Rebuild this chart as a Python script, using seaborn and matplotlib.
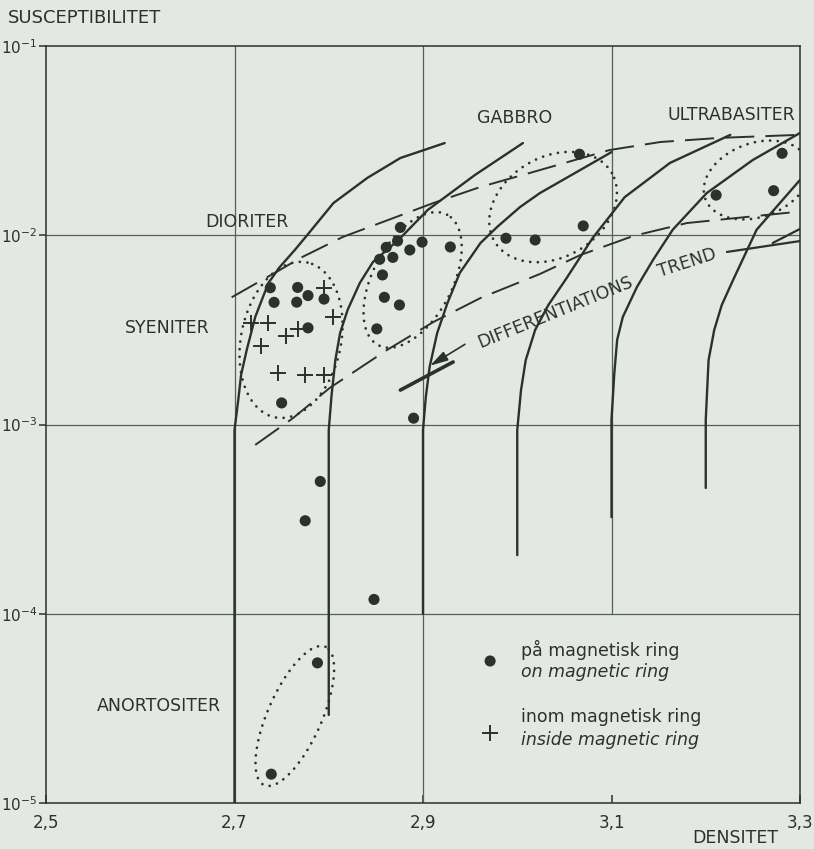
import numpy as np
import pandas as pd
import matplotlib
matplotlib.use("Agg")
import matplotlib.pyplot as plt
import seaborn as sns

# measured samples, "på magnetisk ring" (dots)
dot_density = [2.738, 2.742, 2.767, 2.766, 2.778, 2.795, 2.778, 2.750,
               2.876, 2.873, 2.861, 2.899, 2.886, 2.929, 2.854, 2.868,
               2.857, 2.859, 2.875, 2.851, 2.890,
               2.988, 3.019, 3.066, 3.070,
               3.281, 3.272, 3.211,
               2.791, 2.775, 2.848, 2.788, 2.739]
dot_susc = [5.28e-3, 4.42e-3, 5.30e-3, 4.43e-3, 4.80e-3, 4.60e-3, 3.24e-3, 1.30e-3,
            1.10e-2, 9.33e-3, 8.63e-3, 9.20e-3, 8.36e-3, 8.67e-3, 7.46e-3, 7.64e-3,
            6.17e-3, 4.70e-3, 4.28e-3, 3.20e-3, 1.08e-3,
            9.64e-3, 9.44e-3, 2.68e-2, 1.12e-2,
            2.71e-2, 1.72e-2, 1.63e-2,
            5.0e-4, 3.1e-4, 1.19e-4, 5.5e-5, 1.42e-5]

# "inom magnetisk ring" (crosses)
cross_density = [2.718, 2.736, 2.728, 2.755, 2.767, 2.795, 2.805, 2.746, 2.775, 2.795]
cross_susc = [3.43e-3, 3.43e-3, 2.60e-3, 2.94e-3, 3.20e-3, 5.28e-3, 3.72e-3,
              1.87e-3, 1.83e-3, 1.82e-3]

# solid reference curves
c1_x = [2.700, 2.700, 2.704, 2.707, 2.713, 2.722, 2.736, 2.748, 2.764, 2.777, 2.805, 2.841, 2.876, 2.923]
c1_y = [1.0e-5, 9.35e-4, 1.35e-3, 1.83e-3, 2.48e-3, 3.70e-3, 5.60e-3, 6.79e-3, 8.36e-3, 1.0e-2, 1.48e-2, 2.01e-2, 2.56e-2, 3.07e-2]
c2_x = [2.800, 2.800, 2.803, 2.807, 2.812, 2.820, 2.833, 2.847, 2.874, 2.905, 2.955, 3.006]
c2_y = [2.92e-5, 9.35e-4, 1.43e-3, 2.19e-3, 3.04e-3, 4.03e-3, 5.60e-3, 7.23e-3, 9.45e-3, 1.36e-2, 2.08e-2, 3.07e-2]
c3_x = [2.900, 2.900, 2.903, 2.907, 2.915, 2.926, 2.939, 2.961, 2.979, 3.003, 3.024, 3.100]
c3_y = [1.0e-4, 9.35e-4, 1.40e-3, 2.01e-3, 3.04e-3, 4.39e-3, 6.32e-3, 9.10e-3, 1.11e-2, 1.41e-2, 1.67e-2, 2.75e-2]
c4_x = [3.000, 3.000, 3.004, 3.009, 3.019, 3.033, 3.051, 3.080, 3.114, 3.162, 3.226]
c4_y = [2.04e-4, 9.35e-4, 1.52e-3, 2.19e-3, 3.16e-3, 4.28e-3, 5.80e-3, 9.67e-3, 1.59e-2, 2.41e-2, 3.39e-2]
c5_x = [3.100, 3.100, 3.103, 3.106, 3.112, 3.127, 3.144, 3.165, 3.201, 3.250, 3.300]
c5_y = [3.24e-4, 1.06e-3, 1.87e-3, 2.80e-3, 3.70e-3, 5.33e-3, 7.40e-3, 1.07e-2, 1.67e-2, 2.50e-2, 3.47e-2]
c6_x = [3.200, 3.200, 3.203, 3.209, 3.217, 3.229, 3.254, 3.300]
c6_y = [4.62e-4, 1.06e-3, 2.19e-3, 3.16e-3, 4.28e-3, 5.80e-3, 1.07e-2, 1.96e-2]

# dashed boundaries
d1_x = [2.697, 2.720, 2.748, 2.770, 2.815, 2.868, 2.911, 2.961, 3.017, 3.098, 3.152, 3.215, 3.297]
d1_y = [4.70e-3, 5.46e-3, 6.55e-3, 7.59e-3, 9.80e-3, 1.23e-2, 1.48e-2, 1.80e-2, 2.16e-2, 2.82e-2, 3.11e-2, 3.27e-2, 3.39e-2]
d2_x = [2.722, 2.762, 2.801, 2.862, 2.911, 2.961, 3.024, 3.067, 3.123, 3.180, 3.297]
d2_y = [7.80e-4, 1.08e-3, 1.56e-3, 2.48e-3, 3.48e-3, 4.66e-3, 6.24e-3, 7.86e-3, 9.91e-3, 1.16e-2, 1.33e-2]

# dotted group outlines: centre density, centre log10(susc), semi-axes (decades), tilt
ellipses = [(2.760, -2.553, 0.418, 0.265, 78),
            (2.889, -2.236, 0.390, 0.210, 62),
            (3.038, -1.851, 0.360, 0.265, 30),
            (3.254, -1.708, 0.290, 0.195, 20),
            (2.764, -4.540, 0.400, 0.143, 66)]

rock_labels = [("DIORITER", 2.669, 1.175e-2), ("SYENITER", 2.584, 3.24e-3),
               ("GABBRO", 2.957, 4.17e-2), ("ULTRABASITER", 3.159, 4.32e-2),
               ("ANORTOSITER", 2.554, 3.26e-5)]

x_ticks = [2.5, 2.7, 2.9, 3.1, 3.3]
x_ticklabels = ["2,5", "2,7", "2,9", "3,1", "3,3"]
y_ticks = [1e-5, 1e-4, 1e-3, 1e-2, 1e-1]
y_ticklabels = [r"$10^{-5}$", r"$10^{-4}$", r"$10^{-3}$", r"$10^{-2}$", r"$10^{-1}$"]

BG = "#e4e8e2"
INK = "#2b312d"
GRID = "#56605a"

sns.set_theme(style="ticks", rc={
    "figure.facecolor": BG, "axes.facecolor": BG, "savefig.facecolor": BG,
    "axes.edgecolor": INK, "axes.linewidth": 1.1,
    "xtick.color": INK, "ytick.color": INK, "text.color": INK,
    "lines.scale_dashes": False, "mathtext.fontset": "dejavusans",
})
plt.rcParams["font.family"] = ["DejaVu Sans"]

fig = plt.figure(figsize=(8.14, 8.49), dpi=100)
ax = fig.add_axes([46 / 814, 46 / 849, 754 / 814, 757 / 849])
ax.set_yscale("log")

for yv in [1e-4, 1e-3, 1e-2]:
    ax.axhline(yv, color=GRID, lw=0.9, zorder=1)
ax.axvline(2.7, color=GRID, lw=0.9, zorder=1)
ax.axvline(2.9, color=GRID, lw=0.9, zorder=1)
ax.axvline(3.1, ymin=0.25, color=GRID, lw=0.9, zorder=1)

for cx, cy in [(c1_x, c1_y), (c2_x, c2_y), (c3_x, c3_y),
               (c4_x, c4_y), (c5_x, c5_y), (c6_x, c6_y)]:
    ax.plot(cx, cy, color=INK, lw=1.7, zorder=2)

for dx, dy in [(d1_x, d1_y), (d2_x, d2_y)]:
    ax.plot(dx, dy, color=INK, lw=1.4, dashes=(21, 8), zorder=2)

t = np.linspace(0, 2 * np.pi, 300)
for ex, ely, a, b, ang in ellipses:
    th = np.radians(ang)
    X = ex / 0.2 + a * np.cos(th) * np.cos(t) - b * np.sin(th) * np.sin(t)
    L = ely + a * np.sin(th) * np.cos(t) + b * np.cos(th) * np.sin(t)
    ax.plot(X * 0.2, 10 ** L, color=INK, lw=2.0, dashes=(0.01, 5.5),
            dash_capstyle="round", zorder=3)

dots = pd.DataFrame({"densitet": dot_density, "susc": dot_susc})
crosses = pd.DataFrame({"densitet": cross_density, "susc": cross_susc})
sns.scatterplot(data=dots, x="densitet", y="susc", ax=ax, color=INK, s=64,
                edgecolor="none", zorder=4)
sns.scatterplot(data=crosses, x="densitet", y="susc", ax=ax, color=INK, s=125,
                marker="+", linewidth=1.4, zorder=4)

# differentiation trend arrow
ax.annotate("", xy=(2.905, 2.01e-3), xytext=(2.947, 2.70e-3),
            arrowprops=dict(arrowstyle="-|>,head_length=0.9,head_width=0.25",
                            color=INK, lw=1.2), zorder=4)
ax.plot([2.876, 2.932], [1.52e-3, 2.14e-3], color=INK, lw=2.6, zorder=4)
ax.plot([3.2225, 3.300], [8.16e-3, 9.32e-3], color=INK, lw=1.6, zorder=4)
ax.plot([3.271, 3.300], [9.10e-3, 1.08e-2], color=INK, lw=1.6, zorder=4)
ax.text(3.040, 10 ** -2.406, "DIFFERENTIATIONS", rotation=22, ha="center",
        va="center", rotation_mode="anchor", fontsize=12.5)
ax.text(3.180, 10 ** -2.147, "TREND", rotation=18, ha="center",
        va="center", rotation_mode="anchor", fontsize=12.5)

for name, lx, ly in rock_labels:
    ax.text(lx, ly, name, ha="left", va="center", fontsize=12.5)

# legend
ax.scatter([0.589], [0.1876], transform=ax.transAxes, s=64, color=INK,
           edgecolor="none", clip_on=False)
ax.scatter([0.589], [0.0925], transform=ax.transAxes, s=125, color=INK,
           marker="+", linewidth=1.4, clip_on=False)
ax.text(0.630, 0.2021, "på magnetisk ring", transform=ax.transAxes,
        va="center", fontsize=12.5)
ax.text(0.630, 0.1731, "on magnetic ring", transform=ax.transAxes,
        va="center", fontsize=12.5, style="italic")
ax.text(0.630, 0.1136, "inom magnetisk ring", transform=ax.transAxes,
        va="center", fontsize=12.5)
ax.text(0.630, 0.0832, "inside magnetic ring", transform=ax.transAxes,
        va="center", fontsize=12.5, style="italic")

ax.set_xlim(2.5, 3.3)
ax.set_ylim(1e-5, 1e-1)
ax.set_xticks(x_ticks)
ax.set_xticklabels(x_ticklabels)
ax.set_yticks(y_ticks)
ax.set_yticklabels(y_ticklabels)
ax.yaxis.set_minor_locator(matplotlib.ticker.NullLocator())
ax.tick_params(axis="y", direction="out", length=5, width=1.1, labelsize=11, pad=1)
ax.tick_params(axis="x", direction="in", length=6, width=1.1, labelsize=12, pad=8)
ax.set_xlabel("")
ax.set_ylabel("")

fig.text(8 / 814, 1 - 18 / 849, "SUSCEPTIBILITET", ha="left", va="center", fontsize=13)
fig.text(735 / 814, 1 - 838 / 849, "DENSITET", ha="center", va="center", fontsize=12.5)

fig.savefig("out.png", dpi=100)
